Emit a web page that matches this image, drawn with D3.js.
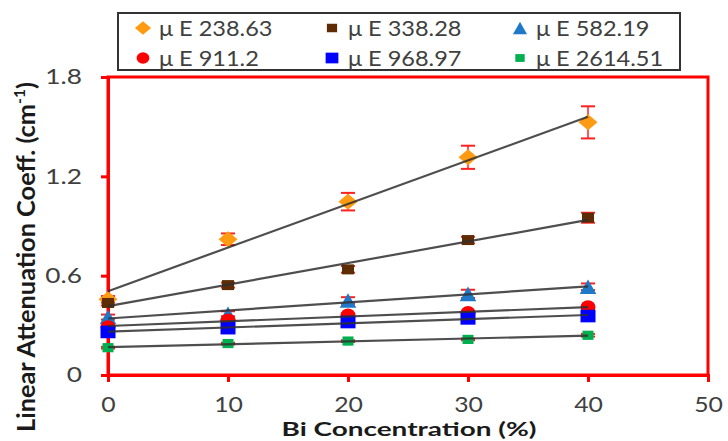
<!DOCTYPE html>
<html><head><meta charset="utf-8">
<script src="https://cdn.jsdelivr.net/npm/d3@7"></script>
<style>body{margin:0;background:#fff}text{font-family:Lato,"Open Sans",sans-serif}</style>
</head><body><svg id="c" width="728" height="441"></svg>
<script>
const concentrations = [0, 10, 20, 30, 40];
const seriesNames = ["μ E 238.63","μ E 338.28","μ E 582.19","μ E 911.2","μ E 968.97","μ E 2614.51"];
const mu238 = [0.457, 0.82, 1.047, 1.315, 1.526];
const err238 = [0.02, 0.035, 0.053, 0.07, 0.097];
const mu338 = [0.435, 0.543, 0.638, 0.815, 0.95];
const err338 = [0.015, 0.015, 0.02, 0.02, 0.03];
const mu582 = [0.35, 0.37, 0.45, 0.49, 0.533];
const err582 = [0.015, 0.015, 0.02, 0.025, 0.02];
const mu911 = [0.29, 0.33, 0.36, 0.375, 0.41];
const err911 = [0.01, 0.01, 0.01, 0.01, 0.01];
const mu968 = [0.26, 0.283, 0.32, 0.342, 0.356];
const err968 = [0.01, 0.01, 0.01, 0.01, 0.01];
const mu2614 = [0.165, 0.19, 0.205, 0.215, 0.24];
const err2614 = [0.005, 0.005, 0.005, 0.005, 0.008];
const xTicks = [0, 10, 20, 30, 40, 50];
const yTicks = [0, 0.6, 1.2, 1.8];

const series = [
  {name: seriesNames[0], v: mu238, e: err238, sym: "diamond", color: "#FF9B12"},
  {name: seriesNames[1], v: mu338, e: err338, sym: "square", color: "#5E2C04"},
  {name: seriesNames[2], v: mu582, e: err582, sym: "triangle", color: "#1F78C8"},
  {name: seriesNames[3], v: mu911, e: err911, sym: "circle", color: "#FF0000"},
  {name: seriesNames[4], v: mu968, e: err968, sym: "square2", color: "#0000FF"},
  {name: seriesNames[5], v: mu2614, e: err2614, sym: "square3", color: "#00B050"}
];

function stretch(sel, k) {
  sel.each(function () {
    const w = this.getComputedTextLength();
    d3.select(this).attr("textLength", w * k).attr("lengthAdjust", "spacingAndGlyphs");
  });
}

const svg = d3.select("#c");
const L = 108, R = 708, T = 77, B = 375;
const x = d3.scaleLinear().domain([0, 50]).range([L, R]);
const y = d3.scaleLinear().domain([0, 1.8]).range([B, T]);

svg.append("rect").attr("x", L).attr("y", T).attr("width", R - L).attr("height", B - T)
  .attr("fill", "none").attr("stroke", "#FF0000").attr("stroke-width", 3);

const xAxis = svg.append("g").attr("transform", `translate(0,${B})`)
  .call(d3.axisBottom(x).tickValues(xTicks).tickSize(7).tickPadding(15).tickFormat(d3.format("d")));
const yAxis = svg.append("g").attr("transform", `translate(${L},0)`)
  .call(d3.axisLeft(y).tickValues(yTicks).tickSize(7).tickPadding(19).tickFormat(d => d === 0 ? "0" : d3.format(".1f")(d)));
[xAxis, yAxis].forEach(a => {
  a.select(".domain").attr("stroke", "#FF0000").attr("stroke-width", 3);
  a.selectAll(".tick line").attr("stroke", "#FF0000").attr("stroke-width", 3);
  a.selectAll(".tick text").attr("fill", "#404040").style("font-size", "21px").style("font-family", "Lato, sans-serif");
});
stretch(xAxis.selectAll(".tick text"), 1.18);
stretch(yAxis.selectAll(".tick text"), 1.25);

function drawSym(g, sym, color, cx, cy, s) {
  s = s || 1;
  if (sym === "diamond") {
    const rx = 9.5 * s, ry = 8 * s;
    g.append("path").attr("d", `M${cx},${cy - ry}L${cx + rx},${cy}L${cx},${cy + ry}L${cx - rx},${cy}Z`).attr("fill", color);
  } else if (sym === "square") {
    g.append("rect").attr("x", cx - 6 * s).attr("y", cy - 5 * s).attr("width", 12 * s).attr("height", 10 * s).attr("fill", color);
  } else if (sym === "square2") {
    g.append("rect").attr("x", cx - 7.5 * s).attr("y", cy - 6.3 * s).attr("width", 15 * s).attr("height", 12.6 * s).attr("fill", color);
  } else if (sym === "square3") {
    g.append("rect").attr("x", cx - 5.5 * s).attr("y", cy - 4.6 * s).attr("width", 11 * s).attr("height", 9.2 * s).attr("fill", color);
  } else if (sym === "triangle") {
    const w = 8.3 * s, hh = 7.3 * s;
    g.append("path").attr("d", `M${cx},${cy - hh}L${cx + w},${cy + hh}L${cx - w},${cy + hh}Z`).attr("fill", color);
  } else if (sym === "circle") {
    g.append("ellipse").attr("cx", cx).attr("cy", cy).attr("rx", 7.5 * s).attr("ry", 6.8 * s).attr("fill", color);
  }
}

const marks = svg.append("g");
series.forEach(s => {
  concentrations.forEach((c, i) => {
    const cx = x(c), y1 = y(s.v[i] + s.e[i]), y2 = y(s.v[i] - s.e[i]);
    marks.append("line").attr("x1", cx).attr("x2", cx).attr("y1", y1).attr("y2", y2).attr("stroke", "#FF2020").attr("stroke-width", 1.5);
    [y1, y2].forEach(yy => marks.append("line").attr("x1", cx - 7).attr("x2", cx + 7).attr("y1", yy).attr("y2", yy).attr("stroke", "#FF2020").attr("stroke-width", 2));
  });
});
series.forEach(s => {
  concentrations.forEach((c, i) => drawSym(marks, s.sym, s.color, x(c), y(s.v[i])));
});
series.forEach(s => {
  const mx = d3.mean(concentrations), my = d3.mean(s.v);
  let num = 0, den = 0;
  concentrations.forEach((c, i) => { num += (c - mx) * (s.v[i] - my); den += (c - mx) * (c - mx); });
  const k = num / den, b = my - k * mx;
  marks.append("line").attr("x1", x(0)).attr("x2", x(40)).attr("y1", y(b)).attr("y2", y(b + 40 * k))
    .attr("stroke", "#303030").attr("stroke-width", 2.2).attr("opacity", 0.85);
});

const lg = svg.append("g");
lg.append("rect").attr("x", 118).attr("y", 13).attr("width", 562).attr("height", 57)
  .attr("fill", "#fff").attr("stroke", "#333").attr("stroke-width", 2);
const colX = [143, 332, 520], rowY = [28, 58];
series.forEach((s, i) => {
  const cx = colX[i % 3], cy = rowY[Math.floor(i / 3)];
  drawSym(lg, s.sym, s.color, cx, cy, 0.85);
  const t = lg.append("text").attr("x", cx + 16).attr("y", cy).attr("dy", "0.36em")
    .attr("fill", "#404040").style("font-size", "21px").text(s.name);
  stretch(t, 1.12);
});

const xt = svg.append("text").attr("x", 409).attr("y", 436).attr("text-anchor", "middle")
  .style("font-size", "19px").style("font-weight", "bold").attr("fill", "#1a1a1a").text("Bi Concentration (%)");
xt.attr("textLength", 255).attr("lengthAdjust", "spacingAndGlyphs");

// y title: size the font so that its length matches the reference (~355px)
let yfs = 20;
const yt = svg.append("text").attr("text-anchor", "middle")
  .style("font-weight", "bold").attr("fill", "#1a1a1a");
const t1 = yt.append("tspan").text("Linear Attenuation Coeff. (cm");
const t2 = yt.append("tspan").attr("dy", "-8").text("-1");
const t3 = yt.append("tspan").attr("dy", "8").text(")");
function setY(fs) {
  yt.style("font-size", fs + "px");
  t2.style("font-size", (fs * 0.62) + "px").attr("dy", -fs * 0.38);
  t3.attr("dy", fs * 0.38);
}
setY(yfs);
const len = yt.node().getComputedTextLength();
yfs = Math.min(26, yfs * 350 / len);
setY(yfs);
yt.attr("transform", `translate(${26 + yfs * 0.36},257) rotate(-90)`);
</script></body></html>
